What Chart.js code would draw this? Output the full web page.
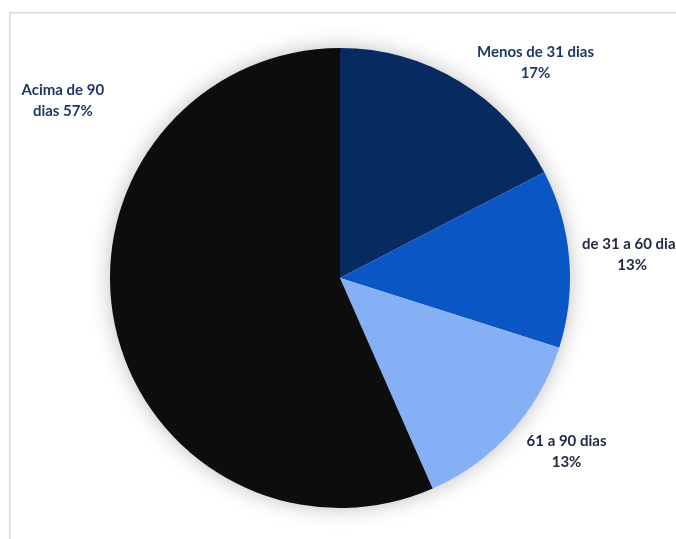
<!DOCTYPE html>
<html>
<head>
<meta charset="utf-8">
<script src="https://cdn.jsdelivr.net/npm/chart.js@4.4.1/dist/chart.umd.min.js"></script>
<style>
  html, body { margin: 0; padding: 0; background: #fff; }
  #wrap { position: relative; width: 676px; height: 539px; }
</style>
</head>
<body>
<div id="wrap"><canvas id="chart" width="676" height="539"></canvas></div>
<script>
// data
const categories = ["Menos de 31 dias", "de 31 a 60 dias", "61 a 90 dias", "Acima de 90 dias"];
const shares = [17.4, 12.5, 13.5, 56.6];
const labelLines = [
    ["Menos de 31 dias", "17%"],
    ["de 31 a 60 dias", "13%"],
    ["61 a 90 dias", "13%"],
    ["Acima de 90", "dias 57%"]
];

/* colours */
const colors = ["#072a60", "#0a56c4", "#86b0f6", "#0d0d0d"];
const textColors = ["#1f3864", "#222a45", "#222a45", "#1f3864"];

// label offsets from the pie centre, in units of the radius
const labelOffsets = [[0.85, -0.935], [1.27, -0.1], [0.985, 0.755], [-1.205, -0.77]];

const framePlugin = {
    id: 'frame',
    beforeDraw(chart) {
        const c = chart.ctx;
        c.save();
        c.strokeStyle = '#d9d9d9';
        c.lineWidth = 1.5;
        c.strokeRect(9.75, 12.75, 1200, 1200);
        c.restore();
    }
};

// soft grey glow behind the pie
const shadowPlugin = {
    id: 'glow',
    beforeDatasetsDraw(chart) {
        const arc = chart.getDatasetMeta(0).data[0];
        const c = chart.ctx;
        c.save();
        c.shadowColor = 'rgba(0,0,0,0.28)';
        c.shadowBlur = 22;
        c.fillStyle = '#fff';
        c.beginPath();
        c.arc(arc.x, arc.y, arc.outerRadius - 1, 0, Math.PI * 2);
        c.fill();
        c.restore();
    }
};

const labelPlugin = {
    id: 'sliceLabels',
    afterDatasetsDraw(chart) {
        const arc = chart.getDatasetMeta(0).data[0];
        const r = arc.outerRadius;
        const c = chart.ctx;
        c.save();
        c.font = 'bold 15px Lato, "Open Sans", sans-serif';
        c.textAlign = 'center';
        c.textBaseline = 'middle';
        labelLines.forEach((lines, i) => {
            const x = arc.x + labelOffsets[i][0] * r;
            const y = arc.y + labelOffsets[i][1] * r;
            c.fillStyle = textColors[i];
            c.fillText(lines[0], x, y - 10.5);
            c.fillText(lines[1], x, y + 10.5);
        });
        c.restore();
    }
};

new Chart(document.getElementById('chart'), {
    type: 'pie',
    data: {
        labels: categories,
        datasets: [{
            data: shares,
            backgroundColor: colors,
            borderWidth: 0
        }]
    },
    options: {
        responsive: false,
        animation: false,
        layout: { padding: { top: 48, bottom: 31, left: 110, right: 106 } },
        plugins: {
            legend: { display: false },
            tooltip: { enabled: false }
        }
    },
    plugins: [framePlugin, shadowPlugin, labelPlugin]
});
</script>
</body>
</html>
